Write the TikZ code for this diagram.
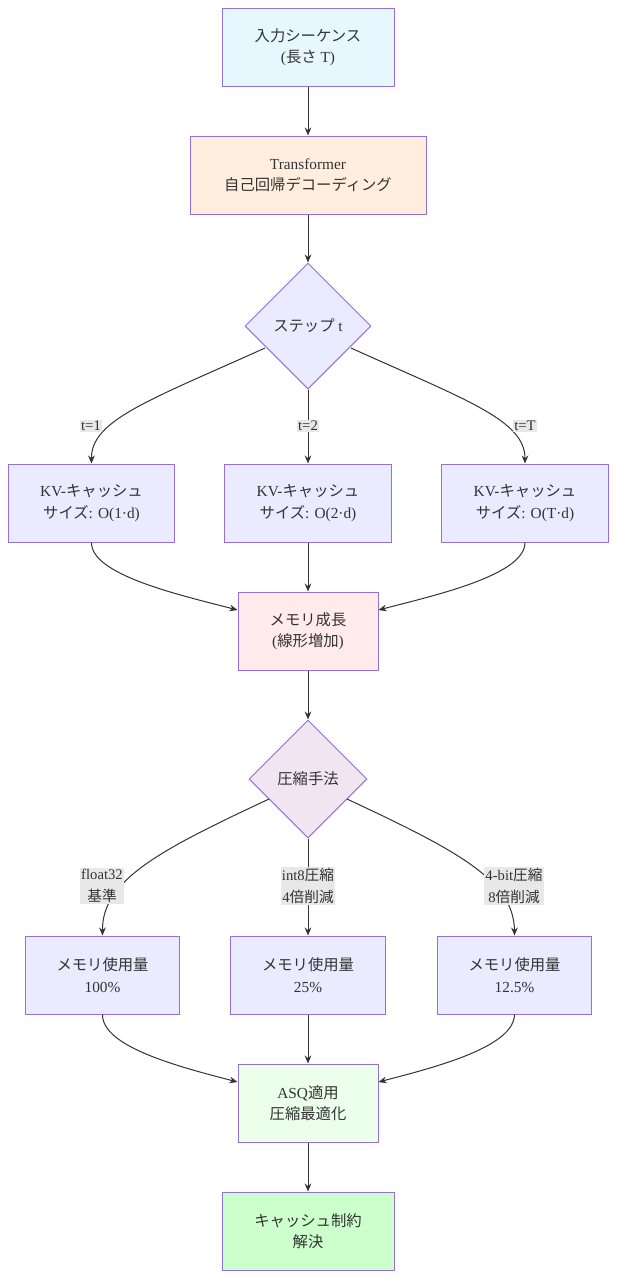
\documentclass[tikz,border=0pt]{standalone}
\usepackage{fontspec}
\setmainfont{Liberation Serif}
\newfontfamily\jpf{Noto Sans CJK JP}
\newcommand{\J}[1]{{\jpf #1}}
\usetikzlibrary{shapes.geometric,arrows.meta}
\definecolor{strk}{HTML}{9370DB}
\definecolor{lnk}{HTML}{333333}
\tikzset{
  base/.style={draw=strk, line width=0.75pt, align=center, font=\fontsize{11.5}{16}\selectfont, text=lnk, inner sep=0pt},
  box/.style={base, rectangle, minimum height=58.5pt},
  dia/.style={base, diamond, aspect=1},
  lbl/.style={fill=black!9, align=center, font=\fontsize{11}{16}\selectfont, text=lnk, inner sep=1pt},
  arr/.style={draw=lnk, line width=0.75pt, -{Stealth[length=6pt,width=5pt]}},
}
\begin{document}
\begin{tikzpicture}[x=0.75pt,y=-0.75pt]
\useasboundingbox (0,0) rectangle (617,1278);
\node[box, fill=cyan!10, minimum width=129pt] (n1) at (308,47) {\J{入力シーケンス}\\(\J{長さ} T)};
\node[box, fill=orange!13, minimum width=177pt] (n2) at (308,175) {Transformer\\\J{自己回帰デコーディング}};
\node[dia, fill=blue!8, minimum size=94.5pt] (d1) at (308,326) {\J{ステップ} t};
\node[box, fill=blue!8, minimum width=125pt] (k1) at (91.5,503) {KV-\J{キャッシュ}\\\J{サイズ}: O(1·d)};
\node[box, fill=blue!8, minimum width=125pt] (k2) at (308,503) {KV-\J{キャッシュ}\\\J{サイズ}: O(2·d)};
\node[box, fill=blue!8, minimum width=125pt] (k3) at (525,503) {KV-\J{キャッシュ}\\\J{サイズ}: O(T·d)};
\node[box, fill=red!8, minimum width=105pt] (m) at (308,631) {\J{メモリ成長}\\(\J{線形増加})};
\node[dia, fill=violet!10, minimum size=88.5pt] (d2) at (308,779) {\J{圧縮手法}};
\node[box, fill=blue!8, minimum width=116pt] (u1) at (102.5,975) {\J{メモリ使用量}\\100\%};
\node[box, fill=blue!8, minimum width=116pt] (u2) at (308,975) {\J{メモリ使用量}\\25\%};
\node[box, fill=blue!8, minimum width=116pt] (u3) at (514.5,975) {\J{メモリ使用量}\\12.5\%};
\node[box, fill=green!8, minimum width=105pt] (a) at (308,1103) {ASQ\J{適用}\\\J{圧縮最適化}};
\node[box, fill=green!20, minimum width=129pt] (f) at (308,1231) {\J{キャッシュ制約}\\\J{解決}};
\draw[arr] (n1) -- (n2);
\draw[arr] (n2) -- (d1);
\draw[arr] (265,348) .. controls (150,400) and (91,420) .. (k1.north);
\draw[arr] (d1) -- (k2);
\draw[arr] (351,348) .. controls (466,400) and (525,420) .. (k3.north);
\node[lbl] (l1) at (91,426) {t=1};
\node[lbl] (l2) at (308,426) {t=2};
\node[lbl] (l3) at (525,426) {t=T};
\draw[arr] (k1.south) .. controls (91,575) and (180,595) .. (m.west |- 0,610);
\draw[arr] (k2) -- (m);
\draw[arr] (k3.south) .. controls (525,575) and (436,595) .. (m.east |- 0,610);
\draw[arr] (m) -- (d2);
\draw[arr] (269,799) .. controls (160,850) and (102,880) .. (u1.north);
\draw[arr] (d2) -- (u2);
\draw[arr] (347,799) .. controls (456,850) and (514,880) .. (u3.north);
\node[lbl] (l4) at (102,886) {float32\\\J{基準}};
\node[lbl] (l5) at (308,886) {int8\J{圧縮}\\4\J{倍削減}};
\node[lbl] (l6) at (514,886) {4-bit\J{圧縮}\\8\J{倍削減}};
\draw[arr] (u1.south) .. controls (102,1047) and (180,1067) .. (a.west |- 0,1082);
\draw[arr] (u2) -- (a);
\draw[arr] (u3.south) .. controls (514,1047) and (436,1067) .. (a.east |- 0,1082);
\draw[arr] (a) -- (f);
\end{tikzpicture}
\end{document}
